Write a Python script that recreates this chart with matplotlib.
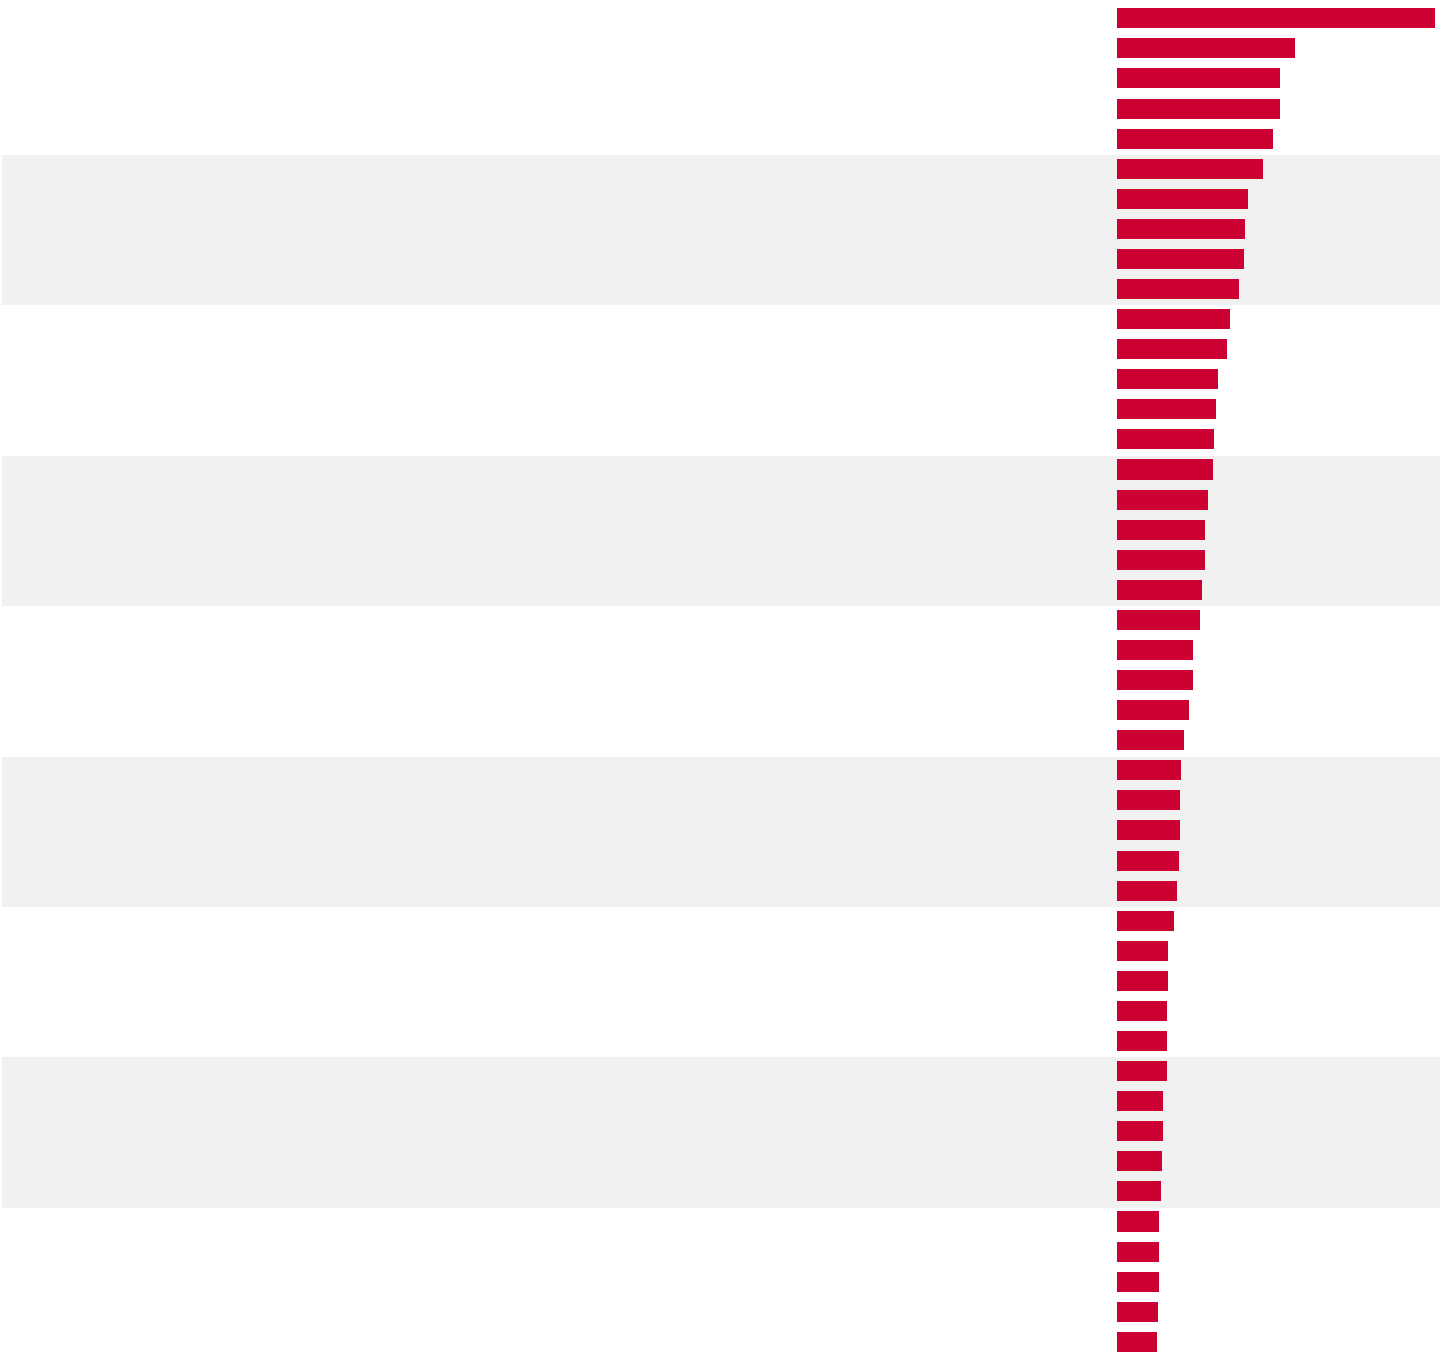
import matplotlib
matplotlib.use("Agg")
import matplotlib.pyplot as plt
import numpy as np

# Bar lengths (arbitrary units), top to bottom
values = [318.3, 177.7, 163.0, 162.7, 155.7, 146.0, 131.0, 128.0, 126.5, 122.0,
          112.7, 110.3, 101.0, 99.0, 96.7, 96.0, 90.5, 88.0, 88.0, 85.3,
          82.7, 76.3, 75.7, 71.7, 67.0, 64.0, 63.0, 63.0, 62.0, 60.0,
          56.7, 51.3, 50.7, 50.0, 50.0, 50.0, 45.5, 45.5, 45.0, 44.3,
          42.3, 41.7, 41.7, 41.0, 40.3]
categories = [f"item{i + 1}" for i in range(len(values))]

BAR_COLOR = "#cc0033"
BAND_COLOR = "#f1f1f1"

W, H = 1442, 1353
fig = plt.figure(figsize=(W / 100, H / 100), dpi=100)
ax = fig.add_axes([0, 0, 1, 1])

n = len(values)
pos = np.arange(n)

# background bands: every other group of 5 rows
for start in range(5, n, 10):
    ax.axhspan(start - 0.5 + 0.045, start + 4.5 + 0.045,
               xmin=2 / W, xmax=1440 / W, color=BAND_COLOR, lw=0, zorder=0)

ax.barh(pos, values, height=0.665, color=BAR_COLOR, zorder=2)

ax.set_xlim(-1117, W - 1117)
pitch = 30.08
ax.set_ylim((H - 18.3) / pitch, -18.3 / pitch)
ax.axis("off")

fig.savefig("out.png", dpi=100, facecolor="white")
